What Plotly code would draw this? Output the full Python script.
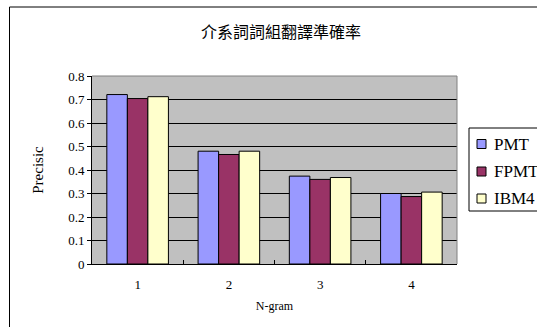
import plotly.graph_objects as go

# N-gram precision for three translation models
categories = ["1", "2", "3", "4"]
pmt = [0.721, 0.480, 0.374, 0.300]
fpmt = [0.704, 0.466, 0.360, 0.287]
ibm4 = [0.712, 0.480, 0.368, 0.306]
series_names = ["PMT", "FPMT", "IBM4"]
series_colors = ["#9999FF", "#993366", "#FFFFCC"]
y_ticks = [0, 0.1, 0.2, 0.3, 0.4, 0.5, 0.6, 0.7, 0.8]
y_tick_labels = ["0", "0.1", "0.2", "0.3", "0.4", "0.5", "0.6", "0.7", "0.8"]

W, H = 537, 327
L, R, T, B = 92, 80, 76, 63
pw, ph = W - L - R, H - T - B

serif = "Liberation Serif"


def px(x):
    """figure pixel x -> paper x"""
    return (x - L) / pw


def py(y):
    """figure pixel y (from top) -> paper y"""
    return (H - B - y) / ph


fig = go.Figure()
for name, vals, col in zip(series_names, [pmt, fpmt, ibm4], series_colors):
    fig.add_trace(go.Bar(
        x=categories, y=vals, name=name,
        marker=dict(color=col, line=dict(color="black", width=1)),
        showlegend=False,
    ))

# outer chart frame (runs past the right and bottom edges)
fig.add_shape(type="rect", xref="paper", yref="paper",
              x0=px(9.5), x1=px(600), y0=py(400), y1=py(7),
              line=dict(color="black", width=1), fillcolor="rgba(0,0,0,0)", layer="below")

# plot-area frame on the top and right
fig.add_shape(type="line", xref="paper", yref="paper", x0=0, x1=1, y0=1, y1=1,
              line=dict(color="#808080", width=1))
fig.add_shape(type="line", xref="paper", yref="paper", x0=1, x1=1, y0=0, y1=1,
              line=dict(color="#808080", width=1))

# legend box with swatches and series names
fig.add_shape(type="rect", xref="paper", yref="paper",
              x0=px(469), x1=px(600), y0=py(211), y1=py(128),
              line=dict(color="black", width=1), fillcolor="white")
row_y = [144, 171.5, 198.5]
for name, col, yc in zip(series_names, series_colors, row_y):
    fig.add_shape(type="rect", xref="paper", yref="paper",
                  x0=px(477), x1=px(486), y0=py(yc + 4.5), y1=py(yc - 4.5),
                  line=dict(color="black", width=1), fillcolor=col)
    fig.add_annotation(text=name, xref="paper", yref="paper",
                       x=px(492), y=py(yc), xanchor="left", yanchor="middle",
                       showarrow=False,
                       font=dict(family=serif, size=17, color="black"))

fig.update_layout(
    width=W, height=H,
    margin=dict(l=L, r=R, t=T, b=B, autoexpand=False),
    paper_bgcolor="white",
    plot_bgcolor="#C0C0C0",
    barmode="group",
    bargap=0.325,
    bargroupgap=0,
    showlegend=False,
    title=dict(text="介系詞詞組翻譯準確率", x=281 / W, xanchor="center",
               y=1 - 32 / H, yanchor="middle",
               font=dict(family="Noto Sans CJK TC", size=16, color="black")),
    xaxis=dict(
        type="category",
        showline=True, linecolor="black", linewidth=1, mirror=False,
        ticks="inside", tickson="boundaries", ticklen=4, tickcolor="black",
        ticklabelstandoff=8,
        tickfont=dict(family=serif, size=13, color="black"),
        title=dict(text="N-gram", font=dict(family=serif, size=12, color="black"), standoff=11),
        showgrid=False,
    ),
    yaxis=dict(
        range=[0, 0.8],
        tickvals=y_ticks, ticktext=y_tick_labels,
        showline=True, linecolor="black", linewidth=1,
        ticks="outside", ticklen=4, tickcolor="black",
        showgrid=True, gridcolor="black", gridwidth=1,
        zeroline=False,
        tickfont=dict(family=serif, size=13, color="black"),
        title=dict(text="Precisic", font=dict(family=serif, size=15, color="black"), standoff=20),
    ),
)

fig.write_html("out.html")
